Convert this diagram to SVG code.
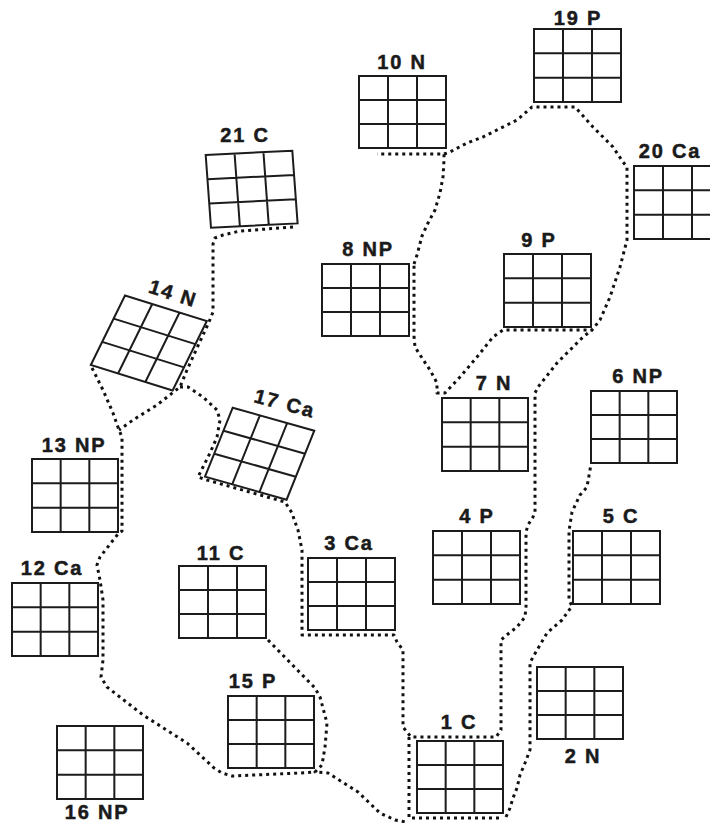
<svg xmlns="http://www.w3.org/2000/svg" xmlns:xlink="http://www.w3.org/1999/xlink" width="710" height="823" viewBox="0 0 710 823">
<style>
.grid{fill:none;stroke:#1c1c1c;stroke-width:2}
.lbl{font-family:"Liberation Sans",Arial,sans-serif;font-weight:bold;font-size:20px;letter-spacing:1.8px;fill:#1a1a1a;stroke:#1a1a1a;stroke-width:0.5px;text-anchor:middle}
.dot{fill:none;stroke:#111;stroke-width:3;stroke-dasharray:3 4;stroke-linejoin:round}
</style>
<defs>
<path id="g" class="grid" vector-effect="non-scaling-stroke" d="M0 0H1V1H0Z M0.3333 0V1 M0.6667 0V1 M0 0.3333H1 M0 0.6667H1"/>
</defs>
<rect width="710" height="823" fill="#fff"/>
<g id="connectors">
<path class="dot" d="M293 227 L267 229 L240 231 L223 235 L215 238 L213 244 L213 312 L209 322 L197 348 L187 370 L180 387 L157 405 L133 420 L119 430"/>
<path class="dot" d="M92 368 L103 390 L113 413 L119 430 L122 437 L122 531 L118 534 L100 557 L97 565 L100 580 L103 600 L103 660 L101 677 L107 687 L143 715 L187 743 L214 768 L222 773 L232 776 L300 773 L315 772"/>
<path class="dot" d="M268 640 L315 688 L320 697 L327 723 L325 747 L322 765 L315 772 L328 773 L358 792 L380 813 L395 820 L406 822"/>
<path class="dot" d="M180 387 L188 387 L203 397 L217 410 L220 420 L217 437 L210 453 L203 467 L198 477 L207 480 L285 502 L292 513 L295 522 L298 530 L302 550 L302 635 L394 635 L397 642 L403 650 L403 727 L407 732 L411 737 L496 737 L501 730 L501 640 L508 634 L517 627 L525 617 L526 607 L526 532 L528 525 L533 517 L535 512 L535 393 L538 387 L557 363 L583 337 L592 330"/>
<path class="dot" d="M409 737 L409 818 L503 818"/>
<path class="dot" d="M506 817 L510 808 L513 798 L517 788 L520 775 L525 763 L530 750 L530 663 L533 657 L547 633 L562 620 L572 606 L569 600 L569 531 L572 512 L580 495 L587 487 L590 470 L591 464"/>
<path class="dot" d="M414 264 L417 255 L422 236 L428 223 L435 210 L440 193 L443 177 L444 160 L444 154 L377 154"/>
<path class="dot" d="M444 154 L450 152 L467 143 L483 137 L517 120 L532 107 L575 107 L593 127 L613 147 L623 162 L627 167 L627 240 L620 267 L610 297 L600 320 L592 330 L503 330 L493 337 L477 357 L460 377 L445 393 L437 393 L437 383 L430 370 L422 358 L415 347 L414 336 L414 264"/>
</g>
<g id="n19"><use xlink:href="#g" transform="matrix(87,0,0,73,534,29)"/><text class="lbl" x="578" y="25">19 P</text></g>
<g id="n10"><use xlink:href="#g" transform="matrix(87,0,0,72,359,76)"/><text class="lbl" x="402" y="69">10 N</text></g>
<g id="n20"><use xlink:href="#g" transform="matrix(87,0,0,73,634,166)"/><text class="lbl" x="670" y="158">20 Ca</text></g>
<g id="n21"><use xlink:href="#g" transform="matrix(86.6,-4.3,5.3,72.7,205.7,155)"/><text class="lbl" x="245" y="142">21 C</text></g>
<g id="n8"><use xlink:href="#g" transform="matrix(87,0,0,72,322,264)"/><text class="lbl" x="368" y="256">8 NP</text></g>
<g id="n9"><use xlink:href="#g" transform="matrix(87,0,0,73,504,254)"/><text class="lbl" x="539" y="247">9 P</text></g>
<g id="n14"><use xlink:href="#g" transform="matrix(81.8,25.5,-34.2,69.5,125,295.5)"/><text class="lbl" transform="translate(171,300) rotate(18)" x="0" y="0">14 N</text></g>
<g id="n17"><use xlink:href="#g" transform="matrix(81.6,23,-27.7,69,232.7,407.7)"/><text class="lbl" transform="translate(283,410) rotate(15)" x="0" y="0">17 Ca</text></g>
<g id="n7"><use xlink:href="#g" transform="matrix(86,0,0,73,442,398)"/><text class="lbl" x="494" y="390">7 N</text></g>
<g id="n6"><use xlink:href="#g" transform="matrix(86,0,0,72,591,391)"/><text class="lbl" x="638" y="383">6 NP</text></g>
<g id="n13"><use xlink:href="#g" transform="matrix(86,0,0,73,32,459)"/><text class="lbl" x="74" y="452">13 NP</text></g>
<g id="n12"><use xlink:href="#g" transform="matrix(86,0,0,73,12,583)"/><text class="lbl" x="52" y="575">12 Ca</text></g>
<g id="n11"><use xlink:href="#g" transform="matrix(87,0,0,72,179,566)"/><text class="lbl" x="221" y="560">11 C</text></g>
<g id="n3"><use xlink:href="#g" transform="matrix(87,0,0,72,308,558)"/><text class="lbl" x="349" y="550">3 Ca</text></g>
<g id="n4"><use xlink:href="#g" transform="matrix(87,0,0,73,433,531)"/><text class="lbl" x="477" y="523">4 P</text></g>
<g id="n5"><use xlink:href="#g" transform="matrix(87,0,0,73,573,531)"/><text class="lbl" x="621" y="523">5 C</text></g>
<g id="n2"><use xlink:href="#g" transform="matrix(86,0,0,72,537,667)"/><text class="lbl" x="583" y="763">2 N</text></g>
<g id="n1"><use xlink:href="#g" transform="matrix(86,0,0,72,417,741)"/><text class="lbl" x="459" y="729">1 C</text></g>
<g id="n15"><use xlink:href="#g" transform="matrix(86,0,0,72,228,696)"/><text class="lbl" x="253" y="688">15 P</text></g>
<g id="n16"><use xlink:href="#g" transform="matrix(86,0,0,73,57,726)"/><text class="lbl" x="97" y="819">16 NP</text></g>
</svg>
